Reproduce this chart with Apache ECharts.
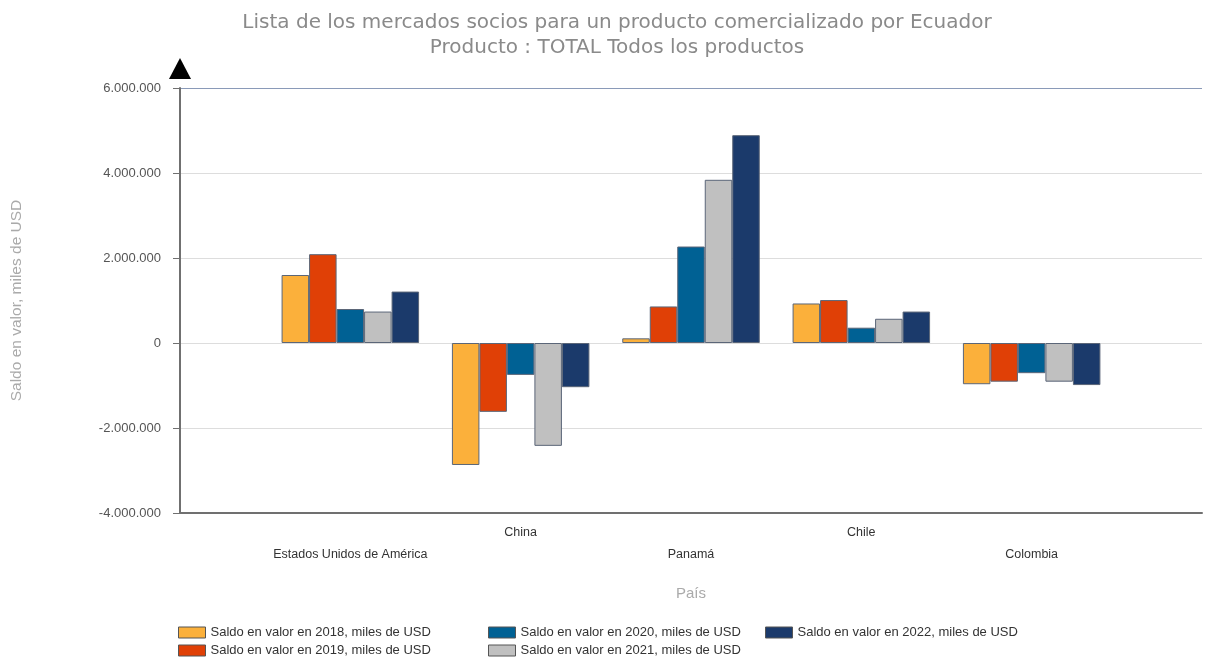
<!DOCTYPE html>
<html><head><meta charset="utf-8">
<script src="https://cdn.jsdelivr.net/npm/echarts@6/dist/echarts.min.js"></script>
<style>html,body{margin:0;padding:0;background:#fff}#c{width:1205px;height:657px}</style>
</head><body><div id="c"></div>
<script>
const categories = ['', 'Estados Unidos de América', 'China', 'Panamá', 'Chile', 'Colombia', ''];
const seriesNames = [
  'Saldo en valor en 2018, miles de USD',
  'Saldo en valor en 2019, miles de USD',
  'Saldo en valor en 2020, miles de USD',
  'Saldo en valor en 2021, miles de USD',
  'Saldo en valor en 2022, miles de USD'
];
const v2018 = [null, 1600000, -2870000, 110000, 930000, -970000, null];
const v2019 = [null, 2090000, -1620000, 860000, 1010000, -910000, null];
const v2020 = [null, 800000, -750000, 2270000, 360000, -710000, null];
const v2021 = [null, 740000, -2420000, 3840000, 570000, -910000, null];
const v2022 = [null, 1210000, -1040000, 4890000, 740000, -990000, null];
const yTicks = [-4000000, -2000000, 0, 2000000, 4000000, 6000000];
const colors = ['#FBB03B', '#E04006', '#006194', '#C0C0C0', '#1B3A6B'];
const allValues = [v2018, v2019, v2020, v2021, v2022];

function fmt(v) {
  const s = Math.abs(v).toString().replace(/\B(?=(\d{3})+(?!\d))/g, '.');
  return (v < 0 ? '-' : '') + s;
}

const chart = echarts.init(document.getElementById('c'));
const series = allValues.map((vals, i) => ({
  name: seriesNames[i],
  type: 'bar',
  data: vals,
  barWidth: 27.5,
  barGap: '0%',
  itemStyle: { color: colors[i], borderColor: '#5b6678', borderWidth: 1 }
}));
const legendItem = (names, left) => ({
  orient: 'vertical', left: left, top: 626, padding: 0, itemWidth: 27, itemHeight: 11, itemGap: 5,
  icon: 'rect',
  data: names,
  textStyle: { fontFamily: 'Liberation Sans', fontSize: 13, color: '#333' },
  itemStyle: { borderColor: '#555', borderWidth: 1 },
  selectedMode: false
});
chart.setOption({
  animation: false,
  title: {
    text: 'Lista de los mercados socios para un producto comercializado por Ecuador\nProducto : TOTAL Todos los productos',
    left: 612, textAlign: 'center', top: 5,
    textStyle: { fontFamily: 'DejaVu Sans', fontSize: 20, fontWeight: 'normal', color: '#8a8a8a', lineHeight: 25 }
  },
  legend: [
    legendItem([seriesNames[0], seriesNames[1]], 178),
    legendItem([seriesNames[2], seriesNames[3]], 488),
    legendItem([seriesNames[4]], 765)
  ],
  graphic: [{
    type: 'polygon', shape: { points: [[169, 79], [191, 79], [180, 58]] },
    style: { fill: '#000' }, z: 10
  }],
  grid: { left: 180, right: 0, top: 88, bottom: 144 },
  xAxis: {
    type: 'category', data: categories, boundaryGap: false,
    name: 'País', nameLocation: 'middle', nameGap: 73,
    nameTextStyle: { fontFamily: 'Liberation Sans', fontSize: 15, color: '#aaa' },
    axisLine: { onZero: false, lineStyle: { color: '#707070', width: 2 } },
    axisTick: { show: false },
    axisLabel: {
      interval: 0, margin: 9, lineHeight: 22,
      fontFamily: 'Liberation Sans', fontSize: 12.5, color: '#333',
      formatter: (v, i) => (i % 2 === 1 ? '\n' + v : v)
    },
    splitLine: { show: false }
  },
  yAxis: {
    type: 'value', min: yTicks[0], max: yTicks[yTicks.length - 1], interval: 2000000,
    name: 'Saldo en valor, miles de USD', nameLocation: 'middle', nameGap: 155, nameRotate: 90,
    nameTextStyle: { fontFamily: 'Liberation Sans', fontSize: 15.5, color: '#aaa' },
    axisLine: { show: true, lineStyle: { color: '#707070', width: 2 } },
    axisTick: { show: true, length: 7, lineStyle: { color: '#707070' } },
    axisLabel: { margin: 19, fontFamily: 'Liberation Sans', fontSize: 13, color: '#555', formatter: fmt },
    splitLine: { lineStyle: { color: ['#dddddd', '#dddddd', '#dddddd', '#dddddd', '#dddddd', '#8a9ab8'], width: 1 } }
  },
  series: series
});
</script></body></html>
